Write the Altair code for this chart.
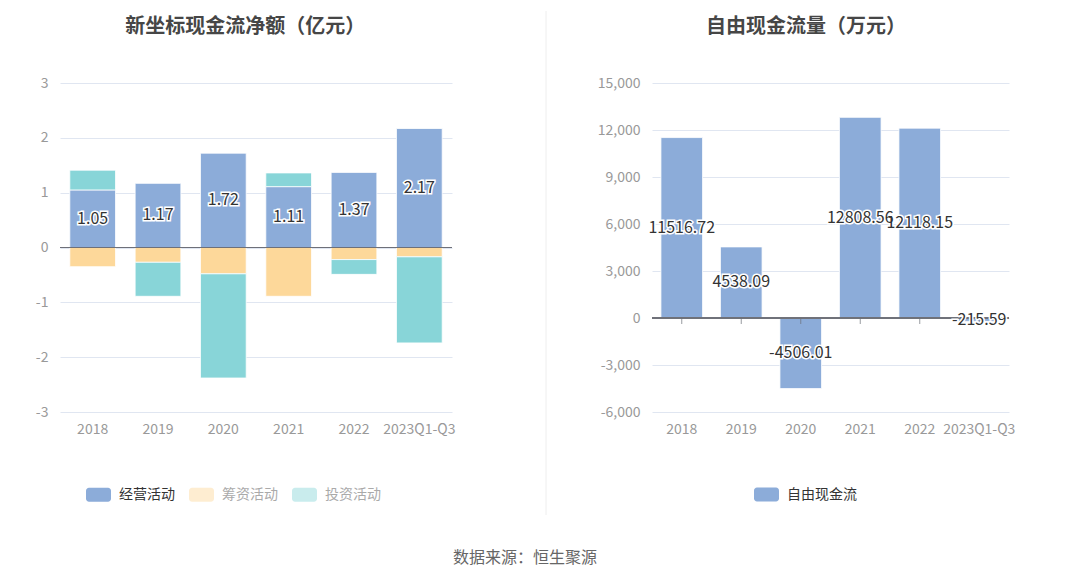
import altair as alt
import pandas as pd

years = ["2018", "2019", "2020", "2021", "2022", "2023Q1-Q3"]
operating = [1.05, 1.17, 1.72, 1.11, 1.37, 2.17]
financing = [-0.35, -0.27, -0.48, -0.89, -0.22, -0.17]
investing = [0.36, -0.62, -1.90, 0.25, -0.27, -1.57]
series_names = ["经营活动", "筹资活动", "投资活动"]
series_colors = ["#8cacd9", "#fdd89a", "#88d5d8"]
fcf = [11516.72, 4538.09, -4506.01, 12808.56, 12118.15, -215.59]
left_ticks = [-3, -2, -1, 0, 1, 2, 3]
right_ticks = [-6000, -3000, 0, 3000, 6000, 9000, 12000, 15000]

FONT = "Noto Sans CJK SC"
rows = []
for i, y in enumerate(years):
    for k, (name, vals) in enumerate(zip(series_names, [operating, financing, investing])):
        rows.append({"year": y, "type": name, "value": vals[i], "ord": k})
left_df = pd.DataFrame(rows)
right_df = pd.DataFrame({"year": years, "value": fcf, "name": ["自由现金流"] * len(years)})

rr = ("M-0.76,-0.56 L0.76,-0.56 A0.24,0.24 0 0 1 1,-0.32 L1,0.32 A0.24,0.24 0 0 1 0.76,0.56 "
      "L-0.76,0.56 A0.24,0.24 0 0 1 -1,0.32 L-1,-0.32 A0.24,0.24 0 0 1 -0.76,-0.56 Z")
LABEL = "replace(format(datum.value, '.2f'), '\u2212', '-')"

xscale = alt.Scale(paddingInner=0.3, paddingOuter=0.15)
xaxis = alt.Axis(title=None, labelAngle=0, domain=False, ticks=False, labelPadding=10,
                 labelColor="#999", labelFontSize=14, labelFont=FONT, grid=False)
X = alt.X("year:N", sort=years, scale=xscale, axis=xaxis)


def yaxis(values, fmt):
    return alt.Axis(title=None, values=values, format=fmt, domain=False, ticks=False,
                    labelPadding=12, labelColor="#999", labelFontSize=14, labelFont=FONT,
                    gridColor="#e0e6f1",
                    labelExpr="replace(datum.label, '\u2212', '-')")


lscale = alt.Scale(domain=[-3, 3], nice=False)
laxis = yaxis(left_ticks, "d")
rscale = alt.Scale(domain=[-6000, 15000], nice=False)
raxis = yaxis(right_ticks, ",d")

# ---------------- left chart ----------------
lbase = alt.Chart(left_df)
lbars = lbase.mark_bar(stroke="white", strokeWidth=0.8).encode(
    x=X,
    y=alt.Y("value:Q", stack="zero", scale=lscale, axis=laxis),
    color=alt.Color("type:N", sort=series_names,
                    scale=alt.Scale(domain=series_names, range=series_colors),
                    legend=alt.Legend(title=None, orient="none", legendX=26, legendY=399,
                                      direction="horizontal", symbolType=rr, symbolSize=625,
                                      symbolStrokeWidth=0, labelFontSize=14, labelFont=FONT,
                                      labelOffset=8, columnPadding=14,
                                      labelColor={"expr": "datum.label == '经营活动' ? '#333333' : '#aaaaaa'"},
                                      symbolOpacity={"expr": "datum.label == '经营活动' ? 1 : 0.45"})),
    order=alt.Order("ord:Q"),
)
lzero = lbase.mark_rule(color="#6e7079", strokeWidth=1).encode(
    y=alt.Y(datum=0, scale=lscale, axis=laxis))
lop = lbase.transform_filter(alt.datum.type == "经营活动").transform_calculate(
    mid="datum.value/2", lab=LABEL)
lhalo = lop.mark_text(font=FONT, fontSize=16, stroke="white", strokeWidth=3, fill="white").encode(
    x=X, y=alt.Y("mid:Q", scale=lscale, axis=laxis), text="lab:N")
ltext = lop.mark_text(font=FONT, fontSize=16, fill="#333").encode(
    x=X, y=alt.Y("mid:Q", scale=lscale, axis=laxis), text="lab:N")

left = alt.layer(lbars, lzero, lhalo, ltext).properties(
    width=392, height=329,
    title=alt.TitleParams("新坐标现金流净额（亿元）", offset=39, frame="bounds"))

# ---------------- divider ----------------
divider = alt.Chart(pd.DataFrame({"d": [0]})).mark_rule(color="#eeeeee", strokeWidth=1).encode(
    x=alt.value(91), y=alt.value(-72), y2=alt.value(432)).properties(width=142, height=329)

# ---------------- right chart ----------------
rbase = alt.Chart(right_df)
rbars = rbase.mark_bar(stroke="white", strokeWidth=0.8).encode(
    x=X,
    y=alt.Y("value:Q", scale=rscale, axis=raxis),
    color=alt.Color("name:N", scale=alt.Scale(domain=["自由现金流"], range=["#8cacd9"]),
                    legend=alt.Legend(title=None, orient="none", legendX=102, legendY=399,
                                      direction="horizontal", symbolType=rr, symbolSize=625,
                                      symbolStrokeWidth=0, labelFontSize=14, labelFont=FONT,
                                      labelOffset=8, labelColor="#333")),
)
rzero = rbase.mark_rule(color="#6e7079", strokeWidth=1).encode(
    y=alt.Y(datum=0, scale=rscale, axis=raxis))
rticks = rbase.mark_tick(color="#6e7079", thickness=1, size=6, orient="vertical", yOffset=3).encode(
    x=X, y=alt.Y(datum=0, scale=rscale, axis=raxis))
rmid = rbase.transform_calculate(mid="datum.value/2", lab=LABEL)
rhalo = rmid.mark_text(font=FONT, fontSize=16, stroke="white", strokeWidth=3, fill="white").encode(
    x=X, y=alt.Y("mid:Q", scale=rscale, axis=raxis), text="lab:N")
rtext = rmid.mark_text(font=FONT, fontSize=16, fill="#333").encode(
    x=X, y=alt.Y("mid:Q", scale=rscale, axis=raxis), text="lab:N")

right = alt.layer(rbars, rzero, rticks, rhalo, rtext).properties(
    width=357, height=329,
    title=alt.TitleParams("自由现金流量（万元）", offset=39, frame="bounds"))

chart = alt.hconcat(left, divider, right, spacing=0).resolve_scale(
    color="independent", y="independent", x="independent").properties(
    padding={"left": 27, "top": 2, "right": 5, "bottom": 5},
    title=alt.TitleParams("数据来源：恒生聚源", orient="bottom", anchor="middle", offset=34,
                          fontSize=16, fontWeight="normal", color="#666", font=FONT),
).configure_view(stroke=None).configure_title(
    font=FONT, fontSize=20, fontWeight="bold", color="#464646", anchor="middle")

chart.save("out.html", embed_options={"renderer": "svg", "actions": False})
